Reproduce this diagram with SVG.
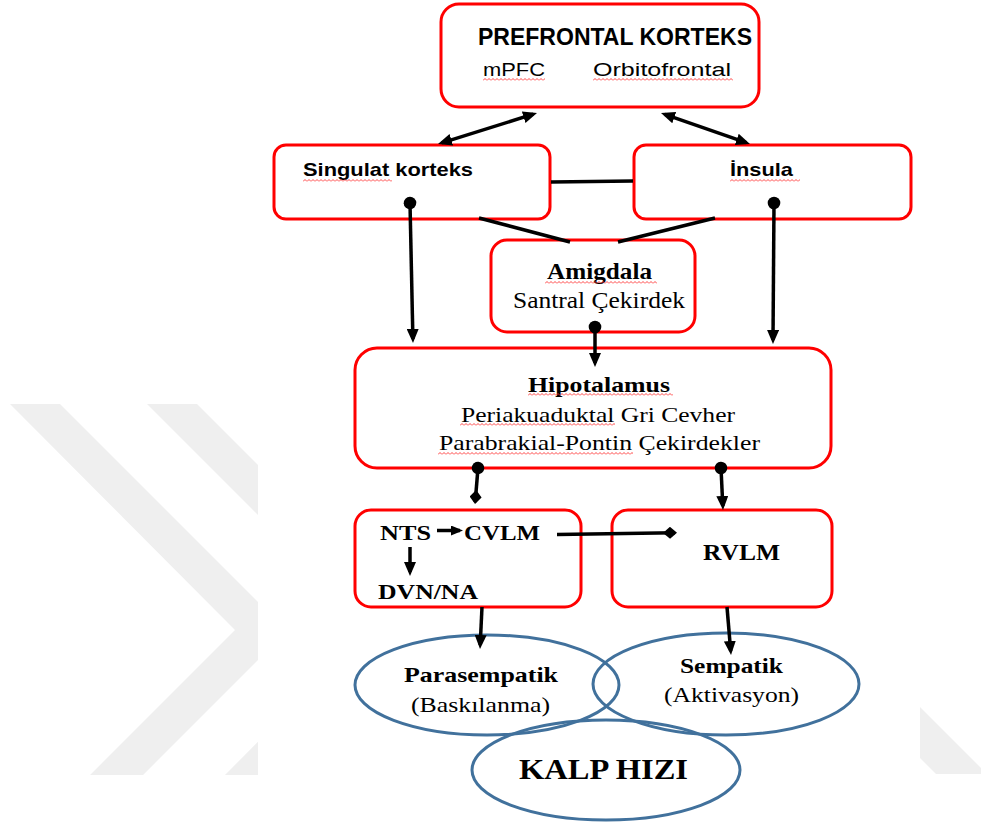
<svg xmlns="http://www.w3.org/2000/svg" width="981" height="825" viewBox="0 0 981 825">
<defs>
<style>
.box{fill:#fff;stroke:#ff0000;stroke-width:3}
.ell{fill:none;stroke:#41719c;stroke-width:3}
.sans{font-family:"Liberation Sans",Arial,sans-serif;fill:#000}
.serif{font-family:"Liberation Serif","Times New Roman",serif;fill:#000}
.b{font-weight:bold}
.ln{stroke:#000;stroke-width:3.5;fill:none}
.wm{fill:#efefef}
</style>
<marker id="arr" viewBox="0 0 14 12" refX="10" refY="6" markerWidth="14" markerHeight="12" orient="auto-start-reverse" markerUnits="userSpaceOnUse"><path d="M0,0 L14,6 L0,12 z" fill="#000"/></marker>
<marker id="arrS" viewBox="0 0 12 10" refX="9" refY="5" markerWidth="12" markerHeight="10" orient="auto" markerUnits="userSpaceOnUse"><path d="M0,0 L12,5 L0,10 z" fill="#000"/></marker>
<marker id="dot" viewBox="-7 -7 14 14" refX="0" refY="0" markerWidth="14" markerHeight="14" orient="auto" markerUnits="userSpaceOnUse"><circle r="6.3" fill="#000"/></marker>
<marker id="dia" viewBox="0 0 14 12" refX="12" refY="6" markerWidth="14" markerHeight="12" orient="auto" markerUnits="userSpaceOnUse"><path d="M0,6 L7,0 L14,6 L7,12 z" fill="#000"/></marker>
<pattern id="sq" width="4" height="3" patternUnits="userSpaceOnUse"><path d="M0,2.5 L2,0.5 L4,2.5" fill="none" stroke="#ff3030" stroke-width="0.9"/></pattern>
</defs>
<rect width="981" height="825" fill="#fff"/>
<g id="watermark">
<polygon class="wm" points="10,404 60,404 287,631 143,775 90,775 235,630"/>
<polygon class="wm" points="147,404 197,404 421,628 275,775 225,775 371,628"/>
<polygon class="wm" points="900,687 981,768 981,774 936,774 900,738"/>
</g>
<rect x="258" y="0" width="662" height="825" fill="#fff"/>

<g id="prefrontal">
<rect class="box" x="441" y="4" width="318" height="103" rx="18"/>
<text class="sans b" x="478" y="45" font-size="23.5" textLength="274" lengthAdjust="spacingAndGlyphs">PREFRONTAL KORTEKS</text>
<text class="sans" x="483" y="76" font-size="18" textLength="62" lengthAdjust="spacingAndGlyphs">mPFC</text>
<text class="sans" x="593" y="76" font-size="18" textLength="138" lengthAdjust="spacingAndGlyphs">Orbitofrontal</text>
<rect x="0" y="0" width="62" height="3" fill="url(#sq)" transform="translate(483,78)"/>
<rect x="0" y="0" width="140" height="3" fill="url(#sq)" transform="translate(593,78)"/>
</g>

<g id="singulat">
<rect class="box" x="274" y="145" width="276" height="74" rx="12"/>
<text class="sans b" x="303" y="176" font-size="19" textLength="170" lengthAdjust="spacingAndGlyphs">Singulat korteks</text>
<rect x="0" y="0" width="89" height="3" fill="url(#sq)" transform="translate(303,179)"/>
</g>

<g id="insula">
<rect class="box" x="634" y="145" width="277" height="74" rx="12"/>
<text class="sans b" x="730" y="176" font-size="19" textLength="63" lengthAdjust="spacingAndGlyphs">İnsula</text>
<rect x="0" y="0" width="70" height="3" fill="url(#sq)" transform="translate(730,179)"/>
</g>

<g id="amigdala">
<rect class="box" x="491" y="240" width="204" height="92" rx="16"/>
<text class="serif b" x="547" y="279" font-size="23" textLength="105" lengthAdjust="spacingAndGlyphs">Amigdala</text>
<text class="serif" x="513" y="308" font-size="23" textLength="172" lengthAdjust="spacingAndGlyphs">Santral Çekirdek</text>
<rect x="0" y="0" width="112" height="3" fill="url(#sq)" transform="translate(545,281)"/>
</g>

<g id="hipotalamus">
<rect class="box" x="355" y="348" width="476" height="120" rx="22"/>
<text class="serif b" x="528" y="391.5" font-size="21" textLength="142" lengthAdjust="spacingAndGlyphs">Hipotalamus</text>
<text class="serif" x="461" y="421.5" font-size="22" textLength="274" lengthAdjust="spacingAndGlyphs">Periakuaduktal Gri Cevher</text>
<text class="serif" x="439" y="450" font-size="22" textLength="321" lengthAdjust="spacingAndGlyphs">Parabrakial-Pontin Çekirdekler</text>
<rect x="0" y="0" width="145" height="3" fill="url(#sq)" transform="translate(528,393)"/>
<rect x="0" y="0" width="155" height="3" fill="url(#sq)" transform="translate(460,423)"/>
<rect x="0" y="0" width="195" height="3" fill="url(#sq)" transform="translate(438,452)"/>
</g>

<g id="nts">
<rect class="box" x="355" y="510" width="226" height="97" rx="16"/>
<text class="serif b" x="380" y="540" font-size="22" textLength="51" lengthAdjust="spacingAndGlyphs">NTS</text>
<text class="serif b" x="464" y="540" font-size="22" textLength="76" lengthAdjust="spacingAndGlyphs">CVLM</text>
<text class="serif b" x="378" y="599" font-size="22" textLength="100" lengthAdjust="spacingAndGlyphs">DVN/NA</text>
</g>

<g id="rvlm">
<rect class="box" x="612" y="510" width="220" height="97" rx="16"/>
<text class="serif b" x="703" y="560" font-size="23" textLength="77" lengthAdjust="spacingAndGlyphs">RVLM</text>
</g>

<g id="parasempatik">
<ellipse class="ell" cx="487" cy="685" rx="132" ry="50"/>
<text class="serif b" x="404" y="682" font-size="22" textLength="154" lengthAdjust="spacingAndGlyphs">Parasempatik</text>
<text class="serif" x="411" y="711.5" font-size="22" textLength="139" lengthAdjust="spacingAndGlyphs">(Baskılanma)</text>
</g>

<g id="sempatik">
<ellipse class="ell" cx="726" cy="684" rx="133" ry="51"/>
<text class="serif b" x="680" y="673" font-size="22" textLength="103" lengthAdjust="spacingAndGlyphs">Sempatik</text>
<text class="serif" x="664" y="702" font-size="22" textLength="135" lengthAdjust="spacingAndGlyphs">(Aktivasyon)</text>
</g>

<g id="kalp">
<ellipse class="ell" cx="606" cy="770" rx="134" ry="50"/>
<text class="serif b" x="519" y="779" font-size="29" textLength="169" lengthAdjust="spacingAndGlyphs">KALP HIZI</text>
</g>

<g id="connectors">
<line class="ln" x1="533.2" y1="114.2" x2="441.8" y2="142.8" marker-start="url(#arr)" marker-end="url(#arr)"/>
<line class="ln" x1="664.8" y1="114.3" x2="746.2" y2="142.7" marker-start="url(#arr)" marker-end="url(#arr)"/>
<line class="ln" x1="551" y1="182" x2="633" y2="181" stroke-width="4"/>
<line class="ln" x1="479" y1="218" x2="570" y2="242"/>
<line class="ln" x1="715" y1="218" x2="618" y2="242"/>
<line class="ln" x1="410" y1="203" x2="412.9" y2="339" marker-start="url(#dot)" marker-end="url(#arr)"/>
<line class="ln" x1="774" y1="203" x2="773" y2="340" marker-start="url(#dot)" marker-end="url(#arr)"/>
<line class="ln" x1="595" y1="327" x2="595" y2="363" marker-start="url(#dot)" marker-end="url(#arr)"/>
<line class="ln" x1="478" y1="468" x2="475.2" y2="502" marker-start="url(#dot)" marker-end="url(#dia)"/>
<line class="ln" x1="721" y1="468" x2="722.8" y2="506" marker-start="url(#dot)" marker-end="url(#arr)"/>
<line class="ln" x1="437" y1="530.5" x2="460" y2="530.5" stroke-width="3" marker-end="url(#arrS)"/>
<line class="ln" x1="410" y1="547" x2="410" y2="572" stroke-width="3" marker-end="url(#arr)"/>
<line class="ln" x1="557" y1="534.5" x2="675" y2="532.7" marker-end="url(#dia)"/>
<line class="ln" x1="482" y1="607" x2="480.2" y2="645" marker-end="url(#arr)"/>
<line class="ln" x1="727" y1="607" x2="730.7" y2="651" marker-end="url(#arr)"/>
</g>
</svg>
